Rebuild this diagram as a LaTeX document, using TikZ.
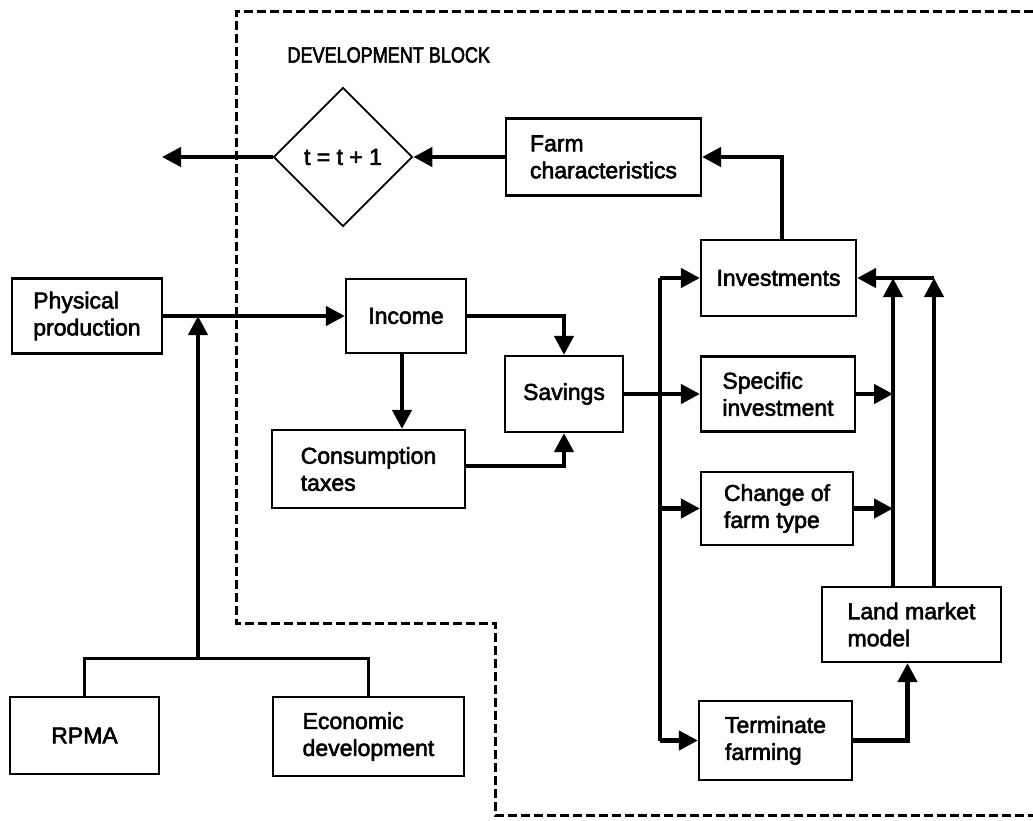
\documentclass[tikz,border=0pt]{standalone}
\usepackage{fontspec}
\setmainfont{Liberation Sans}
\newfontfamily\labelfont{Liberation Sans}[FakeBold=2.5]
\newfontfamily\titlefont{Liberation Sans}[FakeBold=2.5, FakeStretch=0.82]
\usetikzlibrary{arrows.meta,shapes.geometric}
\tikzset{
  boxnode/.style 2 args={draw, line width=2.2pt, minimum width=#1pt, minimum height=#2pt,
    inner sep=0pt, align=left, font=\labelfont\fontsize{23}{27}\selectfont},
  flow/.style={line width=4.3pt, -{Triangle[length=19pt,width=19pt]}},
  plain/.style={line width=4.3pt},
  treeline/.style={line width=3pt},
  blockline/.style={line width=3pt, dash pattern=on 9pt off 4pt},
}
\begin{document}
\begin{tikzpicture}[x=1pt,y=-1pt]
\useasboundingbox (0,0) rectangle (1033,821);

% development block boundary
\draw[blockline] (1033,12) -- (236,12) -- (236,623) -- (495,623) -- (495,815) -- (1033,815);
\node[anchor=west, font=\titlefont\fontsize{22}{26}\selectfont] (title) at (284,55) {DEVELOPMENT BLOCK};

% decision and boxes
\node[draw, diamond, aspect=1, line width=1.8pt, minimum width=139pt, minimum height=139pt,
      inner sep=0pt, font=\labelfont\fontsize{23}{27}\selectfont] (tick) at (343,157) {t = t + 1};
\node[boxnode={195}{77}] (farm) at (603.5,157) {Farm\\characteristics};
\node[boxnode={155}{76}] (invest) at (778.5,278) {Investments};
\node[boxnode={150}{75}] (phys) at (87,316) {Physical\\production};
\node[boxnode={120}{74}] (income) at (406,316) {Income};
\node[boxnode={193}{78}] (cons) at (368.5,469) {Consumption\\taxes};
\node[boxnode={118}{76}] (sav) at (564,394) {Savings};
\node[boxnode={154}{75}] (spec) at (778,394) {Specific\\investment};
\node[boxnode={152}{73}] (change) at (777,508.5) {Change of\\farm type};
\node[boxnode={153}{79}] (term) at (775.5,740.5) {Terminate\\farming};
\node[boxnode={179}{75}] (land) at (911.5,624.5) {Land market\\model};
\node[boxnode={149}{77}] (rpma) at (84.5,735.5) {RPMA};
\node[boxnode={191}{79}] (econ) at (368.5,736.5) {Economic\\development};

% free ends and junctions
\coordinate (out) at (162,157);
\coordinate (join) at (198,658);
\coordinate (br) at (660,0);
\coordinate (upa) at (893,0);
\coordinate (upb) at (934,0);

% time step loop
\draw[flow] (tick.west) -- (out);
\draw[flow] (farm.west) -- (tick.east);
\draw[flow] ([xshift=3.5pt]invest.north) |- (farm.east);

% exogenous inputs
\draw[treeline] (rpma.north) |- (econ.north |- join) -- (econ.north);
\draw[flow] (join) -- (join |- phys.east);
\draw[flow] (phys.east) -- (income.west);

% income use
\draw[flow] (income.east) -| (sav.north);
\draw[flow] ([xshift=-4pt]income.south) -- ([xshift=-4pt]income.south |- cons.north);
\draw[flow] ([yshift=3pt]cons.east) -| (sav.south);
\draw[flow] (sav.east) -- (spec.west);

% allocation of savings
\draw[plain] (br |- invest.west) -- (br |- term.west);
\draw[flow] (br |- invest.west) -- (invest.west);
\draw[flow] (br |- change.west) -- (change.west);
\draw[flow] (br |- term.west) -- (term.west);

% feedback into investments
\draw[flow] (spec.east) -- (upa |- spec.east);
\draw[flow] (change.east) -- (upa |- change.east);
\draw[flow] (upa |- land.north) -- (upa |- invest.east);
\draw[flow] (upb |- land.north) -- (upb |- invest.east);
\draw[flow] (upb |- invest.east) -- (invest.east);
\draw[flow] (term.east) -| ([xshift=-4pt]land.south);
\end{tikzpicture}
\end{document}
